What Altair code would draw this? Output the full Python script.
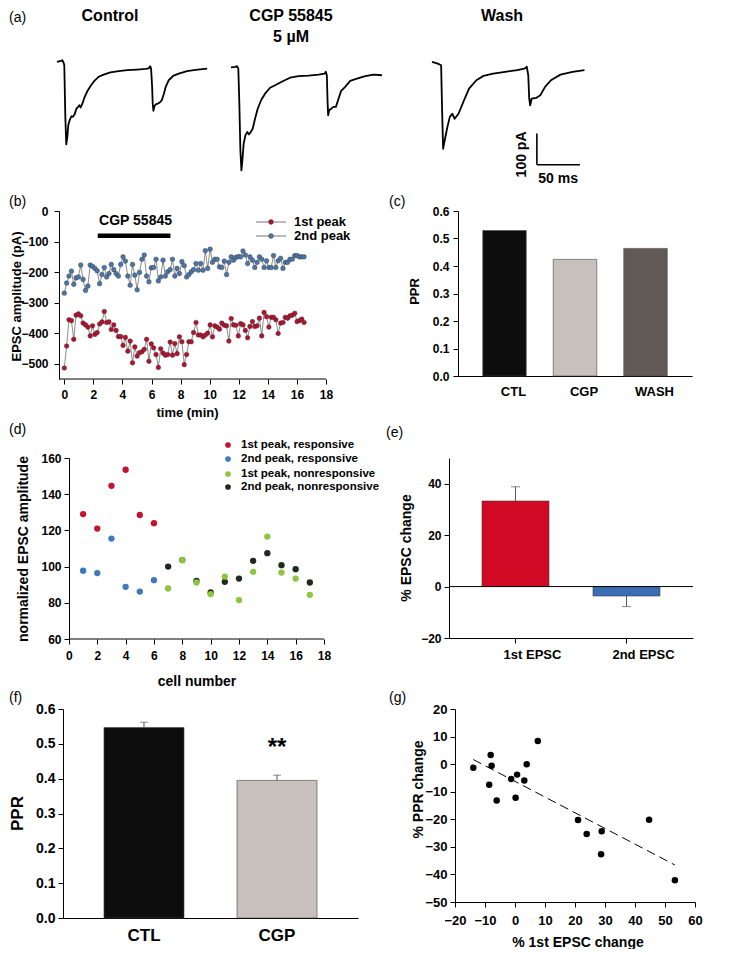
import altair as alt
import pandas as pd

FONT = "Liberation Sans"

# ---------------- (a) example traces : time (ms) / current (pA) ----------------
CTL_T = [0, 4.6, 6.2, 7.7, 8.5, 9.7, 10.8, 12.0, 13.1, 14.7, 16.7, 18.6, 20.5, 22.5, 24.0, 26.0,
         27.5, 29.5, 32.2, 34.9, 38.8, 43.4, 48.4, 54.2, 62.0, 71.7, 81.4, 93.0, 102.7, 106.6,
         108.2, 109.3, 110.5, 111.2, 112.0, 113.2, 114.7, 117.0, 119.4, 121.7, 124.0, 126.3,
         129.8, 134.9, 141.4, 151.1, 160.8, 174.4]
CTL_I = [-4, -1, 1, -7, -15, -180, -268, -245, -207, -191, -178, -180, -172, -154, -150, -143,
         -150, -138, -116, -100, -82, -65, -52, -45, -38, -34, -31, -29, -27, -25,
         -18, -26, -84, -138, -161, -146, -140, -138, -134, -127, -108, -84,
         -63, -49, -42, -34, -30, -26]
CGP_T = [0, 4.7, 7.0, 8.5, 9.7, 10.9, 12.1, 13.2, 14.7, 16.7, 19.0, 20.9, 22.9, 25.2, 27.9,
         31.0, 34.9, 39.5, 45.4, 51.2, 58.9, 68.6, 78.4, 90.0, 101.7, 108.6, 110.1, 111.3,
         112.1, 112.8, 114.0, 116.3, 119.1, 121.8, 124.9, 127.9, 132.6, 138.4, 146.2, 155.9,
         165.6, 175.3]
CGP_I = [-22, -20, -18, -26, -138, -287, -351, -319, -266, -239, -228, -236, -228, -218, -186,
         -154, -127, -106, -87, -79, -68, -55, -50, -48, -45, -42, -36, -47,
         -127, -175, -159, -154, -148, -148, -122, -97, -84, -65, -58, -50,
         -45, -47]
WASH_T = [0, 6.7, 10.6, 11.7, 12.9, 15.1, 17.9, 20.7, 23.5, 26.3, 30.8, 36.4, 43.0, 51.5, 59.8,
          71.0, 84.9, 98.9, 107.3, 110.1, 111.8, 112.9, 114.0, 115.7, 121.3, 125.8, 131.3,
          138.1, 149.2, 163.2, 177.1]
WASH_I = [-4, -10, -15, -154, -282, -250, -212, -180, -170, -186, -170, -132, -90, -63, -49,
          -42, -36, -31, -26, -20, -47, -122, -143, -122, -119, -111, -84,
          -63, -45, -36, -31]
COND_TITLES = ["Control", "CGP 55845\n5 \u00b5M", "Wash"]
SCALEBAR_MS = 50
SCALEBAR_PA = 100

# ---------------- (b) time course ----------------
TIME_B = [0.00, 0.16, 0.32, 0.49, 0.65, 0.81, 0.97, 1.13, 1.29, 1.46,
          1.62, 1.78, 1.94, 2.10, 2.26, 2.43, 2.59, 2.75, 2.91, 3.07,
          3.23, 3.40, 3.56, 3.72, 3.88, 4.04, 4.20, 4.37, 4.53, 4.69,
          4.85, 5.01, 5.17, 5.34, 5.50, 5.66, 5.82, 5.98, 6.14, 6.31,
          6.47, 6.63, 6.79, 6.95, 7.11, 7.28, 7.44, 7.60, 7.76, 7.92,
          8.09, 8.25, 8.41, 8.57, 8.73, 8.89, 9.06, 9.22, 9.38, 9.54,
          9.70, 9.86, 10.03, 10.19, 10.35, 10.51, 10.67, 10.83, 11.00, 11.16,
          11.32, 11.48, 11.64, 11.80, 11.97, 12.13, 12.29, 12.45, 12.61, 12.77,
          12.94, 13.10, 13.26, 13.42, 13.58, 13.74, 13.91, 14.07, 14.23, 14.39,
          14.55, 14.71, 14.88, 15.04, 15.20, 15.36, 15.52, 15.68, 15.85, 16.01,
          16.17, 16.33, 16.49]
FIRST_PEAK = [-514, -442, -356, -359, -420, -341, -337, -343, -367, -373,
              -380, -409, -376, -404, -398, -370, -363, -329, -365, -363,
              -388, -373, -391, -411, -411, -440, -414, -459, -426, -497,
              -445, -475, -464, -461, -453, -420, -492, -435, -448, -470,
              -512, -451, -465, -472, -470, -429, -472, -434, -467, -412,
              -428, -503, -470, -428, -428, -398, -365, -406, -406, -412,
              -406, -400, -373, -412, -376, -380, -387, -367, -374, -376,
              -426, -352, -373, -374, -409, -369, -373, -391, -415, -378,
              -362, -378, -376, -351, -409, -332, -346, -380, -348, -348,
              -356, -401, -367, -365, -348, -351, -343, -341, -335, -362,
              -359, -354, -365]
SECOND_PEAK = [-269, -236, -213, -197, -240, -219, -216, -177, -224, -260,
               -246, -177, -181, -188, -196, -238, -208, -185, -216, -205,
               -175, -192, -205, -213, -175, -150, -164, -213, -243, -175,
               -210, -258, -201, -158, -144, -213, -232, -186, -185, -158,
               -229, -216, -161, -213, -199, -192, -158, -213, -188, -205,
               -166, -179, -216, -208, -199, -192, -172, -194, -172, -194,
               -130, -188, -125, -168, -158, -158, -183, -185, -164, -208,
               -168, -150, -161, -152, -149, -150, -131, -144, -172, -150,
               -161, -185, -168, -150, -158, -185, -163, -185, -185, -146,
               -185, -163, -155, -188, -168, -168, -158, -158, -146, -146,
               -150, -150, -150]
PEAK_NAMES = ["1st peak", "2nd peak"]
DRUG_NAME = "CGP 55845"
DRUG_START, DRUG_END, DRUG_LEVEL = 2.3, 7.3, -81
TICKS_TIME = [0, 2, 4, 6, 8, 10, 12, 14, 16, 18]
TICKS_AMP = [-500, -400, -300, -200, -100, 0]

# ---------------- (c) PPR example cell ----------------
COND_C = ["CTL", "CGP", "WASH"]
PPR_C = [0.529, 0.424, 0.464]
TICKS_PPR = [0.0, 0.1, 0.2, 0.3, 0.4, 0.5, 0.6]

# ---------------- (d) normalized amplitudes per cell ----------------
GROUPS_D = ["1st peak, responsive", "2nd peak, responsive",
            "1st  peak, nonresponsive", "2nd peak, nonresponsive"]
RESP_CELLS = [1, 2, 3, 4, 5, 6]
RESP_1ST = [129.0, 121.0, 144.6, 153.5, 128.5, 124.0]
RESP_2ND = [97.7, 96.4, 115.5, 88.8, 86.2, 92.5]
NONRESP_CELLS = [7, 8, 9, 10, 11, 12, 13, 14, 15, 16, 17]
NONRESP_1ST = [87.9, 103.6, 91.2, 84.8, 94.5, 81.5, 97.1, 116.6, 96.7, 93.4, 84.4]
NONRESP_2ND = [100.0, 103.6, 92.1, 85.7, 91.6, 93.4, 103.2, 107.4, 100.8, 98.6, 91.2]
TICKS_CELL = [0, 2, 4, 6, 8, 10, 12, 14, 16, 18]
TICKS_NORM = [60, 80, 100, 120, 140, 160]

# ---------------- (e) % EPSC change ----------------
EPSC_LABELS = ["1st EPSC", "2nd EPSC"]
EPSC_MEAN = [33.3, -3.7]
EPSC_SEM = [5.5, 4.1]
TICKS_PCT_E = [-20, -10, 0, 10, 20, 30, 40, 50]

# ---------------- (f) PPR summary ----------------
COND_F = ["CTL", "CGP"]
PPR_F = [0.547, 0.395]
PPR_F_SEM = [0.015, 0.015]
SIG_F = "**"

# ---------------- (g) correlation ----------------
EPSC_CHANGE = [-13.9, -8.1, -7.8, -8.6, -6.1, -1.3, 0.7, 0.2, 3.1, 3.9, 7.6, 21.0, 23.9, 28.9,
               28.7, 44.7, 53.3]
PPR_CHANGE = [-1.3, 3.3, -0.6, -7.5, -13.2, -5.4, -3.8, -12.2, -5.9, 0.0, 8.4, -20.3, -25.3,
              -24.3, -32.7, -20.2, -42.1]
TICKS_GX = [-20, -10, 0, 10, 20, 30, 40, 50, 60]
TICKS_GY = [-50, -40, -30, -20, -10, 0, 10, 20]


# ======================= helpers =======================
AX = dict(labelFontWeight="bold", titleFontWeight="bold", labelOverlap=False, labelFlush=False,
          labelFont=FONT, titleFont=FONT, labelColor="black", titleColor="black",
          domainColor="black", tickColor="black", grid=False)


def note(text, x, y, size=14, weight="normal", align="left", baseline="top", **kw):
    return alt.Chart(pd.DataFrame({"lab": [text]})).mark_text(
        align=align, baseline=baseline, fontSize=size, fontWeight=weight,
        font=FONT, color="black", **kw
    ).encode(text="lab:N", x=alt.value(x), y=alt.value(y))


def yaxis(values, title, tx, ty, lsize=12, tsize=13, fmt=None, pad=3, **extra):
    kw = dict(AX, values=values, tickSize=5, labelPadding=pad, labelFontSize=lsize,
              title=title, titleFontSize=tsize, titleX=tx, titleY=ty,
              titleBaseline="middle", titleAngle=270, titleAlign="center")
    kw.update(extra)
    if fmt:
        kw["format"] = fmt
    return alt.Axis(**kw)


def xaxis(values, title, tx, ty, lsize=12, tsize=13, pad=5, **extra):
    kw = dict(AX, values=values, tickSize=5, labelPadding=pad, labelFontSize=lsize,
              title=title, titleFontSize=tsize, titleX=tx, titleY=ty,
              titleBaseline="middle", titleAlign="center")
    kw.update(extra)
    return alt.Axis(**kw)


def band_axis(lsize, pad, offset=0, ticks=0):
    return alt.Axis(**dict(AX, title=None, labelAngle=0, tickSize=ticks, labelPadding=pad,
                           labelOffset=offset, labelFontSize=lsize))


# ======================= (a) =======================
YS_A = alt.Scale(domain=[-420, 40], nice=False)


def trace(t, i, x0):
    df = pd.DataFrame({"t": t, "i": i})
    return alt.Chart(df).mark_line(color="black", strokeWidth=1.8, strokeJoin="round").encode(
        x=alt.X("t:Q", scale=alt.Scale(domain=[x0, x0 + 180], nice=False, zero=False), axis=None),
        y=alt.Y("i:Q", scale=YS_A, axis=None),
        order="t:Q")


def cond_title(text, x):
    return note(text, x, -40, size=16, weight="bold", align="center", lineBreak="\n", lineHeight=21)


a_ctl = alt.layer(trace(CTL_T, CTL_I, 7), cond_title(COND_TITLES[0], 47),
                  note("(a)", -54, -37)).properties(width=155, height=144)
a_cgp = alt.layer(trace(CGP_T, CGP_I, 0), cond_title(COND_TITLES[1], 60)).properties(width=155, height=144)

XS_W = alt.Scale(domain=[0, 180], nice=False)
sb = pd.DataFrame({"t": [121.8], "t2": [121.8 + SCALEBAR_MS], "i": [-333], "i2": [-333 + SCALEBAR_PA]})
sb_v = alt.Chart(sb).mark_rule(color="black", strokeWidth=1.6).encode(
    x=alt.X("t:Q", scale=XS_W, axis=None), y=alt.Y("i:Q", scale=YS_A, axis=None), y2="i2:Q")
sb_h = alt.Chart(sb).mark_rule(color="black", strokeWidth=1.6).encode(
    x=alt.X("t:Q", scale=XS_W, axis=None), x2="t2:Q", y=alt.Y("i:Q", scale=YS_A, axis=None))
sb_txt = pd.DataFrame({"t": [104, 146.5], "i": [-300, -378],
                       "lab": [f"{SCALEBAR_PA} pA", f"{SCALEBAR_MS} ms"]})
sb_t1 = alt.Chart(sb_txt.iloc[[0]]).mark_text(
    fontSize=14, fontWeight="bold", font=FONT, angle=270, color="black").encode(
    text="lab:N", x=alt.X("t:Q", scale=XS_W, axis=None), y=alt.Y("i:Q", scale=YS_A, axis=None))
sb_t2 = alt.Chart(sb_txt.iloc[[1]]).mark_text(
    fontSize=14, fontWeight="bold", font=FONT, color="black").encode(
    text="lab:N", x=alt.X("t:Q", scale=XS_W, axis=None), y=alt.Y("i:Q", scale=YS_A, axis=None))
a_wash = alt.layer(trace(WASH_T, WASH_I, 0), cond_title(COND_TITLES[2], 70),
                   sb_v, sb_h, sb_t1, sb_t2).properties(width=155, height=144)

row_a = alt.hconcat(alt.hconcat(a_ctl, a_cgp, spacing=12), a_wash, spacing=45)

# ======================= (b) =======================
df_b = pd.DataFrame({
    "t": TIME_B + TIME_B,
    "amp": FIRST_PEAK + SECOND_PEAK,
    "peak": [PEAK_NAMES[0]] * len(FIRST_PEAK) + [PEAK_NAMES[1]] * len(SECOND_PEAK),
})
B_COLORS = ["#b3122e", "#4a76a8"]
XS_B = alt.Scale(domain=[-0.09, 18], nice=False, zero=False)
YS_B = alt.Scale(domain=[-550, 0], nice=False)
AX_BX = xaxis(TICKS_TIME, "time (min)", 124, 33, pad=5, domain=False)
AX_BY = yaxis(TICKS_AMP, "EPSC amplitude (pA)", -43, 85, pad=6, offset=4)


def xb(f="t:Q"):
    return alt.X(f, scale=XS_B, axis=AX_BX)


def yb(f="amp:Q"):
    return alt.Y(f, scale=YS_B, axis=AX_BY)


b_lines = alt.Chart(df_b).mark_line(color="#5a5a5a", strokeWidth=0.7).encode(
    x=xb(), y=yb(), detail="peak:N")
b_pts = alt.Chart(df_b).mark_circle(size=22, opacity=1, stroke="#333333", strokeWidth=0.4).encode(
    x=xb(), y=yb(),
    color=alt.Color("peak:N", scale=alt.Scale(domain=PEAK_NAMES, range=B_COLORS), legend=None))
drug = pd.DataFrame({"t": [DRUG_START], "t2": [DRUG_END], "amp": [DRUG_LEVEL]})
b_bar = alt.Chart(drug).mark_rule(color="black", strokeWidth=4.5).encode(
    x=xb(), x2="t2:Q", y=yb())
drug_lab = pd.DataFrame({"t": [4.9], "amp": [-33.5], "lab": [DRUG_NAME]})
b_drug_txt = alt.Chart(drug_lab).mark_text(
    fontSize=14, fontWeight="bold", font=FONT, color="black").encode(
    text="lab:N", x=xb(), y=yb())
xline_b = pd.DataFrame({"t": [-0.365], "t2": [18], "amp": [-550]})
b_xline = alt.Chart(xline_b).mark_rule(color="black", strokeWidth=1).encode(
    x=xb(), x2="t2:Q", y=yb())
b_layers = [b_xline, b_lines, b_pts, b_bar, b_drug_txt, note("(b)", -54, -16)]
for k, (nm, col) in enumerate(zip(PEAK_NAMES, B_COLORS)):
    yy = 11 + 14 * k
    b_layers.append(alt.Chart(pd.DataFrame({"a": [0]})).mark_rule(color="#777777", strokeWidth=1).encode(
        x=alt.value(193), x2=alt.value(223), y=alt.value(yy)))
    b_layers.append(alt.Chart(pd.DataFrame({"a": [0]})).mark_circle(
        size=24, color=col, opacity=1, stroke="#333333", strokeWidth=0.4).encode(
        x=alt.value(208), y=alt.value(yy)))
    b_layers.append(note(nm, 231, yy, size=13, weight="bold", baseline="middle"))
panel_b = alt.layer(*b_layers).properties(width=263, height=168)

# ======================= (c) =======================
df_c = pd.DataFrame({"cond": COND_C, "ppr": PPR_C})
C_COLORS = ["#0d0d0d", "#c8c0bc", "#625a57"]
panel_c = alt.layer(
    alt.Chart(df_c).mark_bar(stroke="#444444", strokeWidth=0.6).encode(
        x=alt.X("cond:N", sort=COND_C, scale=alt.Scale(paddingInner=0.383, paddingOuter=0.351),
                axis=band_axis(13, 9, offset=9)),
        y=alt.Y("ppr:Q", scale=alt.Scale(domain=[0, 0.6], nice=False),
                axis=yaxis(TICKS_PPR, "PPR", -44, 80, fmt=".1f", pad=4)),
        color=alt.Color("cond:N", scale=alt.Scale(domain=COND_C, range=C_COLORS), legend=None)),
    note("(c)", -69, -16),
).properties(width=234, height=165)

row_b = alt.hconcat(panel_b, panel_c, spacing=38).resolve_scale(color="independent")

# ======================= (d) =======================
df_d = pd.DataFrame({
    "cell": RESP_CELLS + RESP_CELLS + NONRESP_CELLS + NONRESP_CELLS,
    "norm": RESP_1ST + RESP_2ND + NONRESP_2ND + NONRESP_1ST,
    "grp": [GROUPS_D[0]] * 6 + [GROUPS_D[1]] * 6 + [GROUPS_D[3]] * 11 + [GROUPS_D[2]] * 11,
})
D_COLORS = ["#c41230", "#3d7bbd", "#8cc63f", "#1d2a1d"]
XS_D = alt.Scale(domain=[-0.42, 18], nice=False, zero=False)
YS_D = alt.Scale(domain=[60, 160], nice=False, zero=False)
AX_DX = xaxis(TICKS_CELL, "cell number", 133.5, 42, pad=6, tsize=14, domain=False)
AX_DY = yaxis(TICKS_NORM, "normalized EPSC amplitude", -46, 90.5, tsize=14, offset=-6)
xline_d = pd.DataFrame({"cell": [0], "cell2": [18], "norm": [60]})
d_layers = [
    alt.Chart(xline_d).mark_rule(color="black", strokeWidth=1).encode(
        x=alt.X("cell:Q", scale=XS_D, axis=AX_DX), x2="cell2:Q",
        y=alt.Y("norm:Q", scale=YS_D, axis=AX_DY)),
    alt.Chart(df_d).mark_circle(size=40, opacity=1).encode(
        x=alt.X("cell:Q", scale=XS_D, axis=AX_DX), y=alt.Y("norm:Q", scale=YS_D, axis=AX_DY),
        color=alt.Color("grp:N", scale=alt.Scale(domain=GROUPS_D, range=D_COLORS), legend=None)),
    note("(d)", -54, -35.5),
]
for k, (nm, col) in enumerate(zip(GROUPS_D, D_COLORS)):
    yy = [-13, 1, 16, 29][k]
    d_layers.append(alt.Chart(pd.DataFrame({"a": [0]})).mark_circle(size=32, color=col, opacity=1).encode(
        x=alt.value(165), y=alt.value(yy)))
    d_layers.append(note(nm, 178, yy, size=11.5, weight="bold", baseline="middle"))
panel_d = alt.layer(*d_layers).properties(width=261, height=181)

# ======================= (e) =======================
df_e = pd.DataFrame({"lab": EPSC_LABELS, "mean": EPSC_MEAN, "sem": EPSC_SEM})
E_COLORS = ["#d00a25", "#3a6db3"]
xe = alt.X("lab:N", sort=EPSC_LABELS, scale=alt.Scale(paddingInner=0.396, paddingOuter=0.297),
           axis=band_axis(13, 5, offset=17, ticks=5))
ys_e = alt.Scale(domain=[-20, 50], nice=False)
ax_e = yaxis(TICKS_PCT_E, "% EPSC change", -43, 89.5, tsize=14)
base_e = alt.Chart(df_e).transform_calculate(
    end="datum.mean >= 0 ? datum.mean + datum.sem : datum.mean - datum.sem")
panel_e = alt.layer(
    base_e.mark_rule(color="#555555", strokeWidth=1).encode(
        x=xe, y=alt.Y("mean:Q", scale=ys_e, axis=ax_e), y2="end:Q"),
    base_e.mark_tick(color="#555555", thickness=1, size=9).encode(
        x=xe, y=alt.Y("end:Q", scale=ys_e, axis=ax_e)),
    base_e.mark_bar(stroke="#333333", strokeWidth=0.5).encode(
        x=xe, y=alt.Y("mean:Q", scale=ys_e, axis=ax_e), y2=alt.datum(0),
        color=alt.Color("lab:N", scale=alt.Scale(domain=EPSC_LABELS, range=E_COLORS), legend=None)),
    alt.Chart(pd.DataFrame({"a": [0]})).mark_rule(color="black", strokeWidth=1).encode(
        y=alt.datum(0)),
    note("(e)", -63, -32),
).properties(width=244, height=180)

row_d = alt.hconcat(panel_d, panel_e, spacing=6).resolve_scale(color="independent")

# ======================= (f) =======================
df_f = pd.DataFrame({"cond": COND_F, "ppr": PPR_F, "sem": PPR_F_SEM})
F_COLORS = ["#0d0d0d", "#c8c0bc"]
xf = alt.X("cond:N", sort=COND_F, scale=alt.Scale(paddingInner=0.3985, paddingOuter=0.308),
           axis=band_axis(17, 9))
ys_f = alt.Scale(domain=[0, 0.6], nice=False)
ax_f = yaxis(TICKS_PPR, "PPR", -45.5, 104, lsize=14, tsize=17, fmt=".1f")
base_f = alt.Chart(df_f).transform_calculate(end="datum.ppr + datum.sem")
panel_f = alt.layer(
    base_f.mark_rule(color="#555555", strokeWidth=1).encode(
        x=xf, y=alt.Y("ppr:Q", scale=ys_f, axis=ax_f), y2="end:Q"),
    base_f.mark_tick(color="#555555", thickness=1, size=8).encode(
        x=xf, y=alt.Y("end:Q", scale=ys_f, axis=ax_f)),
    base_f.mark_bar(stroke="#444444", strokeWidth=0.6).encode(
        x=xf, y=alt.Y("ppr:Q", scale=ys_f, axis=ax_f),
        color=alt.Color("cond:N", scale=alt.Scale(domain=COND_F, range=F_COLORS), legend=None)),
    alt.Chart(pd.DataFrame({"cond": [COND_F[1]], "ppr": [0.468], "lab": [SIG_F]})).mark_text(
        fontSize=24, fontWeight="bold", font=FONT, baseline="alphabetic", color="black").encode(
        x=xf, y=alt.Y("ppr:Q", scale=ys_f, axis=ax_f), text="lab:N"),
    note("(f)", -54, -18),
).properties(width=295, height=209)

# ======================= (g) =======================
df_g = pd.DataFrame({"x": EPSC_CHANGE, "y": PPR_CHANGE})
xg = alt.X("x:Q", scale=alt.Scale(domain=[-20, 60], nice=False),
           axis=xaxis(TICKS_GX, "% 1st EPSC change", 122.5, 40, lsize=13, tsize=14, pad=7))
yg = alt.Y("y:Q", scale=alt.Scale(domain=[-50, 20], nice=False),
           axis=yaxis(TICKS_GY, "% PPR change", -37, 80, lsize=13, tsize=14))
panel_g = alt.layer(
    alt.Chart(df_g).transform_regression("x", "y").mark_line(
        color="black", strokeWidth=1, strokeDash=[9, 5]).encode(x=xg, y=yg),
    alt.Chart(df_g).mark_circle(size=42, color="black", opacity=1).encode(x=xg, y=yg),
    note("(g)", -66, -18),
).properties(width=240, height=193)

row_f = alt.hconcat(panel_f, panel_g, spacing=31).resolve_scale(color="independent")

chart = alt.vconcat(row_a, row_b, row_d, row_f, spacing=3).resolve_scale(
    color="independent").properties(padding=0, background="white")
chart = chart.configure_view(stroke=None).configure_axis(
    grid=False, domainColor="black", tickColor="black", labelColor="black", titleColor="black",
    labelFont=FONT, titleFont=FONT, labelFontWeight="bold", titleFontWeight="bold",
    labelOverlap=False, domainWidth=1, tickWidth=1).configure_text(font=FONT)

chart.save("out.html", embed_options={"renderer": "svg", "actions": False})
